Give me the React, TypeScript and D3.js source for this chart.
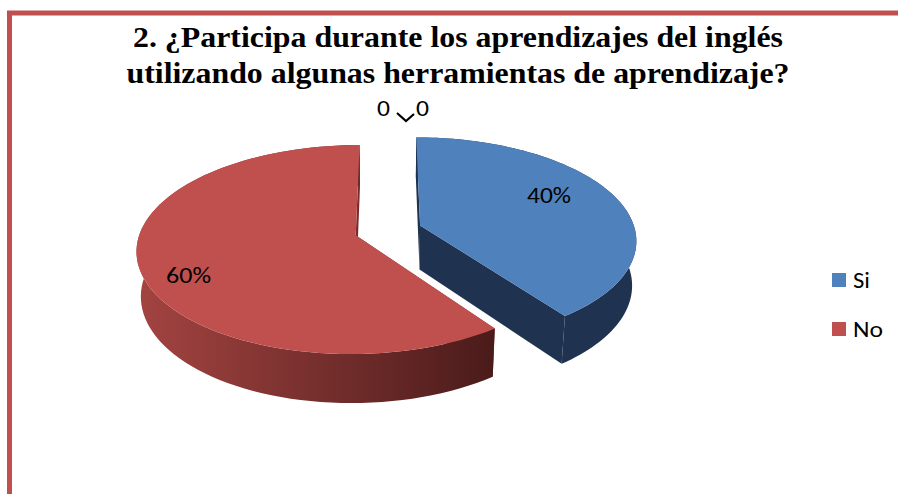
import React from "react";
import * as d3 from "d3";

const categories = ["Si", "No"];
const values = [40, 60];
const percentLabels = ["40%", "60%"];
const zeroLabels = ["0", "0"];
const titleLines = [
  "2. ¿Participa durante los aprendizajes del inglés",
  "utilizando algunas herramientas de aprendizaje?",
];

const W = 898;
const H = 494;
const topColors = ["#4F81BD", "#C0504D"];
const wallColors = [
  ["#1F324F", "#1F324F"],
  ["#A44441", "#4A1B1A"],
];
const radialColors = ["#1F324F", "#7A2C2A"];

// 3D projection params
const cx = 388.1;
const cy = 230.3;
const s = 215.1;
const sinA = 0.4705;
const cosA = Math.sqrt(1 - sinA * sinA);
const q = 0.1537;
const depthH = 0.2375;
const explode = 0.1573;

function proj(x: number, y: number, z: number): [number, number] {
  const f = 1 - q * (y * sinA + z * cosA);
  return [cx + (s * x) / f, cy - (s * (y * cosA - z * sinA)) / f];
}

const pieGen = d3.pie<number>().sort(null).startAngle(0).endAngle(2 * Math.PI);
const arcs = pieGen(values);

function pts(list: [number, number][]) {
  return list.map((p) => p[0].toFixed(2) + "," + p[1].toFixed(2)).join(" ");
}

const sansFont = "Carlito, Calibri, Lato, 'Open Sans', sans-serif";

export default function App() {
  const slices = arcs.map((a, i) => {
    const mid = (a.startAngle + a.endAngle) / 2;
    const ox = explode * Math.sin(mid);
    const oz = -explode * Math.cos(mid);
    const n = 90;
    const angs = d3.range(n + 1).map((k) => a.startAngle + ((a.endAngle - a.startAngle) * k) / n);
    const rim = (y: number) => angs.map((t) => proj(ox + Math.sin(t), y, oz - Math.cos(t)));
    const topRim = rim(0);
    const botRim = rim(-depthH);
    const apexT = proj(ox, 0, oz);
    const apexB = proj(ox, -depthH, oz);
    const top = [apexT, ...topRim];
    const wall = [...topRim, ...botRim.slice().reverse()];
    const rad0 = [apexT, topRim[0], botRim[0], apexB];
    const rad1 = [apexT, topRim[n], botRim[n], apexB];
    return { i, top, wall, rad0, rad1 };
  });

  return (
    <svg
      width={W}
      height={H}
      style={{ position: "absolute", left: 0, top: 0, background: "#fff" }}
      xmlns="http://www.w3.org/2000/svg"
    >
      <defs>
        {wallColors.map((c, i) => (
          <linearGradient key={i} id={"wall" + i} gradientUnits="userSpaceOnUse" x1={135} y1={0} x2={495} y2={0}>
            <stop offset="0" stopColor={c[0]} />
            <stop offset="1" stopColor={c[1]} />
          </linearGradient>
        ))}
      </defs>
      <rect x={0} y={0} width={W} height={H} fill="#fff" />
      <rect x={9.5} y={13} width={W + 20} height={H + 20} fill="none" stroke="#C0504D" strokeWidth={5} />

      {titleLines.map((t, i) => (
        <text
          key={i}
          x={458}
          y={47 + i * 36}
          textAnchor="middle"
          fontFamily="'Liberation Serif', 'Times New Roman', serif"
          fontWeight="bold"
          fontSize={29}
          textLength={i === 0 ? 650 : 663}
          lengthAdjust="spacingAndGlyphs"
          fill="#000"
        >
          {t}
        </text>
      ))}

      {[0, 1].map((k) => {
        const sl = slices[k];
        return (
          <g key={k}>
            <polygon points={pts(sl.rad0)} fill={radialColors[k]} />
            <polygon points={pts(sl.rad1)} fill={radialColors[k]} />
            <polygon points={pts(sl.wall)} fill={`url(#wall${k})`} />
            <polygon points={pts(sl.top)} fill={topColors[k]} />
          </g>
        );
      })}

      <g fontFamily={sansFont} fontSize={22} fill="#000">
        <text x={527} y={203} textLength={44} lengthAdjust="spacingAndGlyphs">{percentLabels[0]}</text>
        <text x={166} y={283} textLength={45} lengthAdjust="spacingAndGlyphs">{percentLabels[1]}</text>
        <text x={377} y={116} textLength={13} lengthAdjust="spacingAndGlyphs">{zeroLabels[0]}</text>
        <text x={416} y={116} textLength={13} lengthAdjust="spacingAndGlyphs">{zeroLabels[1]}</text>
      </g>
      <path d="M397,113 L406,121 L414,114" fill="none" stroke="#000" strokeWidth={2.2} />

      {categories.map((c, i) => (
        <g key={c}>
          <rect x={832} y={273 + i * 49} width={14} height={14} fill={topColors[i]} />
          <text
            x={853}
            y={288 + i * 49}
            fontFamily={sansFont}
            fontSize={22}
            textLength={i === 0 ? 17 : 30}
            lengthAdjust="spacingAndGlyphs"
            fill="#000"
          >
            {c}
          </text>
        </g>
      ))}
    </svg>
  );
}
